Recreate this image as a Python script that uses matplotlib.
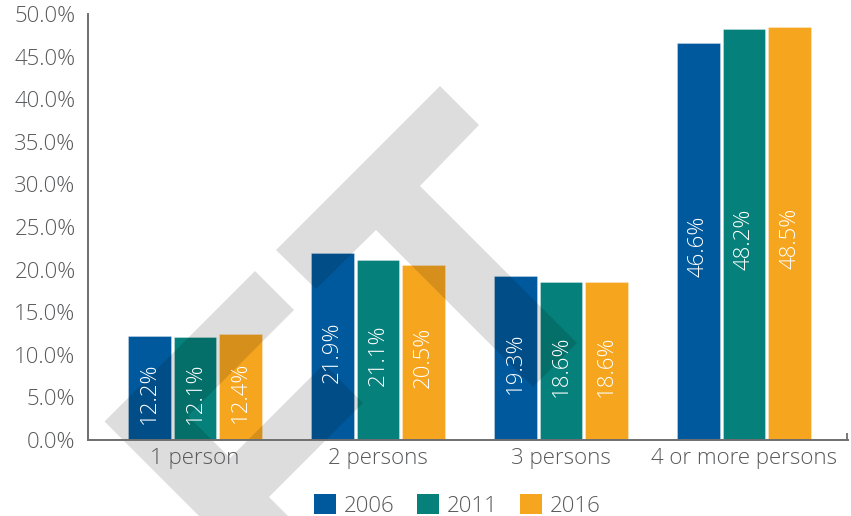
import numpy as np
import matplotlib.pyplot as plt
from matplotlib.patches import Polygon, Patch
from matplotlib.ticker import FixedLocator

# Household size shares by census year
categories = ['1 person', '2 persons', '3 persons', '4 or more persons']
years = ['2006', '2011', '2016']
share_2006 = [12.2, 21.9, 19.3, 46.6]
share_2011 = [12.1, 21.1, 18.6, 48.2]
share_2016 = [12.4, 20.5, 18.6, 48.5]
colors = ['#00599c', '#05807a', '#f6a51e']

plt.rcParams['font.family'] = ['Open Sans', 'DejaVu Sans']
plt.rcParams['font.weight'] = 'light'
text_grey = '#58595b'
axis_grey = '#6d6e70'
fs = 16

fig = plt.figure(figsize=(8.51, 5.16), dpi=100)
ax = fig.add_axes([88 / 851, 76 / 516, 760 / 851, 426 / 516])

x = np.arange(len(categories))
step = 0.249
width = 0.233
for i, (vals, col) in enumerate(zip([share_2006, share_2011, share_2016], colors)):
    pos = x + (i - 1) * step
    ax.bar(pos, vals, width, color=col, zorder=1,
           edgecolor=(1, 1, 1, 0.35), linewidth=0.6)
    for px, v in zip(pos, vals):
        ax.text(px, v / 2 - 0.6, f'{v:.1f}%', rotation=90, ha='center',
                va='center', color='white', fontsize=fs, zorder=4)

ax.set_xlim(-0.585, 3.568)
ax.set_ylim(0, 50)

# y axis: labels every 5%, tick marks every 10%
ax.set_yticks(np.arange(0, 51, 5))
ax.set_yticklabels([f'{v:.1f}%' for v in np.arange(0, 51, 5)])
ax.yaxis.set_minor_locator(FixedLocator(np.arange(10, 51, 10)))
ax.tick_params(axis='y', which='major', length=0, pad=9, labelsize=fs,
               labelcolor=text_grey)
ax.tick_params(axis='y', which='minor', direction='in', length=15,
               width=1.3, color=axis_grey)

ax.set_xticks(x)
ax.set_xticklabels(categories)
ax.xaxis.set_minor_locator(FixedLocator([3.565]))
ax.tick_params(axis='x', which='major', length=0, pad=6, labelsize=fs,
               labelcolor=text_grey)
ax.tick_params(axis='x', which='minor', direction='in', length=5,
               width=1.3, color=axis_grey)

for side in ['top', 'right']:
    ax.spines[side].set_visible(False)
for side in ['left', 'bottom']:
    ax.spines[side].set_color(axis_grey)
    ax.spines[side].set_linewidth(1.4)

# grey "ET" watermark, in pixel coordinates from the top-left corner
H = 516
e_shape = [(104.5, 421.5), (255, 271), (294, 310), (188, 416), (230, 458),
           (324, 364), (363, 403), (269, 497), (311, 539), (250, 567)]
t_shape = [(276, 250), (440, 86), (479, 125), (420, 186), (577, 343),
           (533, 387), (376, 230), (316, 289)]
for shape in [e_shape, t_shape]:
    pts = [(px, H - py) for px, py in shape]
    ax.add_patch(Polygon(pts, closed=True, transform=None, clip_on=False,
                         facecolor='black', edgecolor='none', alpha=0.135,
                         zorder=1.2))

handles = [Patch(facecolor=c, edgecolor='none') for c in colors]
leg = fig.legend(handles, years, loc='lower center', ncol=3,
                 bbox_to_anchor=(0.5376, -0.002), frameon=False,
                 fontsize=fs, handlelength=1.0, handleheight=1.0,
                 handletextpad=0.35, columnspacing=1.0, borderpad=0,
                 borderaxespad=0)
for t in leg.get_texts():
    t.set_color(text_grey)

fig.savefig('out.png', dpi=100)
